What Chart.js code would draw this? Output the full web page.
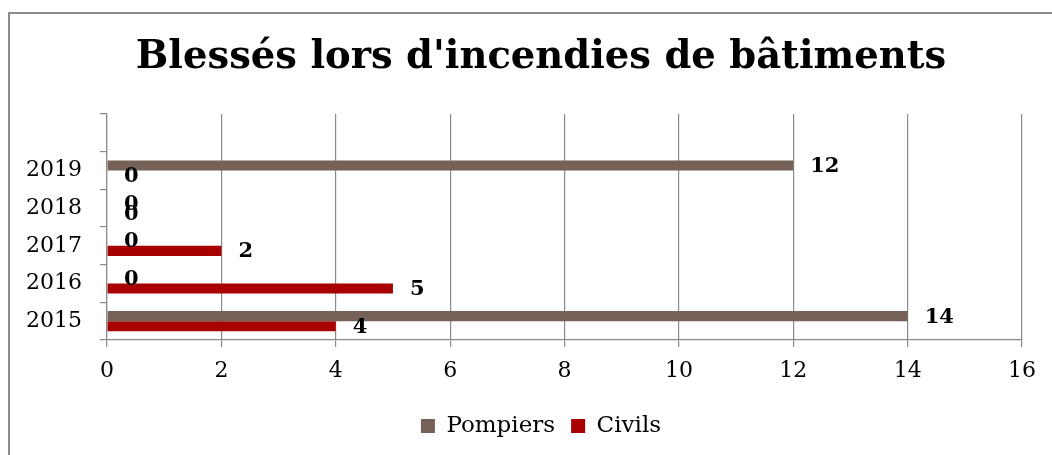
<!DOCTYPE html>
<html>
<head>
<meta charset="utf-8">
<script src="https://cdn.jsdelivr.net/npm/chart.js@4"></script>
<style>
  html, body { margin: 0; padding: 0; background: #fff; overflow: hidden; }
  #frame { position: absolute; left: 8px; top: 12px; width: 1200px; height: 600px; border: 2px solid #8c8c8c; }
  #wrap { position: absolute; left: 0; top: 0; width: 1082px; height: 455px; }
</style>
</head>
<body>
<div id="frame"></div>
<div id="wrap"><canvas id="chart" width="1082" height="455"></canvas></div>
<script>
/* ── data ── */
const years = ['2015', '2016', '2017', '2018', '2019', ''];
const pompiers = [14, 0, 0, 0, 12, null];
const civils = [4, 5, 2, 0, 0, null];
const xMax = 16;
const xStep = 2;

const GRID = '#8a8a8a';
const SERIF = '"DejaVu Serif", serif';

Chart.defaults.font.family = SERIF;
Chart.defaults.color = '#000';

// value labels next to each bar end
const valueLabels = {
  id: 'valueLabels',
  afterDatasetsDraw(chart) {
    const ctx = chart.ctx;
    ctx.save();
    ctx.font = 'bold 21px ' + SERIF;
    ctx.fillStyle = '#000';
    ctx.textAlign = 'left';
    ctx.textBaseline = 'middle';
    chart.data.datasets.forEach((ds, i) => {
      chart.getDatasetMeta(i).data.forEach((bar, j) => {
        const v = ds.data[j];
        if (v === null || v === undefined) return;
        ctx.fillText(String(v), bar.x + 17, bar.y + 1);
      });
    });
    ctx.restore();
  },
};

new Chart(document.getElementById('chart'), {
  type: 'bar',
  data: {
    labels: years,
    datasets: [
      { label: 'Pompiers', data: pompiers, backgroundColor: '#756157', borderWidth: 0 },
      { label: 'Civils', data: civils, backgroundColor: '#a80000', borderWidth: 0 },
    ],
  },
  options: {
    indexAxis: 'y',
    responsive: false,
    animation: false,
    devicePixelRatio: 1,
    categoryPercentage: 0.536,
    barPercentage: 1,
    layout: { padding: { left: 0, right: 0, top: 0, bottom: 7.5 } },
    plugins: {
      title: {
        display: true,
        text: "Blessés lors d'incendies de bâtiments",
        color: '#000',
        font: { family: SERIF, weight: 'bold', size: 38.5 },
        padding: { top: 35, bottom: 32.8 },
      },
      legend: {
        position: 'bottom',
        labels: {
          boxWidth: 14,
          boxHeight: 14,
          padding: 16,
          color: '#000',
          font: { family: SERIF, size: 23 },
        },
      },
      tooltip: { enabled: false },
    },
    scales: {
      x: {
        min: 0,
        max: xMax,
        ticks: { stepSize: xStep, padding: 11, color: '#000', font: { size: 22 } },
        grid: { color: GRID, lineWidth: 1.2, tickLength: 7 },
        border: { color: GRID, width: 1.2 },
        afterFit: s => { s.height = 58.5; },
      },
      y: {
        reverse: true,
        ticks: { padding: 18, color: '#000', font: { size: 22 } },
        grid: { drawOnChartArea: false, color: GRID, lineWidth: 1.2, tickLength: 7 },
        border: { color: GRID, width: 1.2 },
        afterFit: s => { s.width = 107; },
      },
      // empty spacer on the right so the title and legend sit where the reference has them
      spacer: {
        type: 'category',
        position: 'right',
        ticks: { display: false },
        grid: { display: false, drawTicks: false },
        border: { display: false },
        afterFit: s => { s.width = 60; },
      },
    },
  },
  plugins: [valueLabels],
});
</script>
</body>
</html>
